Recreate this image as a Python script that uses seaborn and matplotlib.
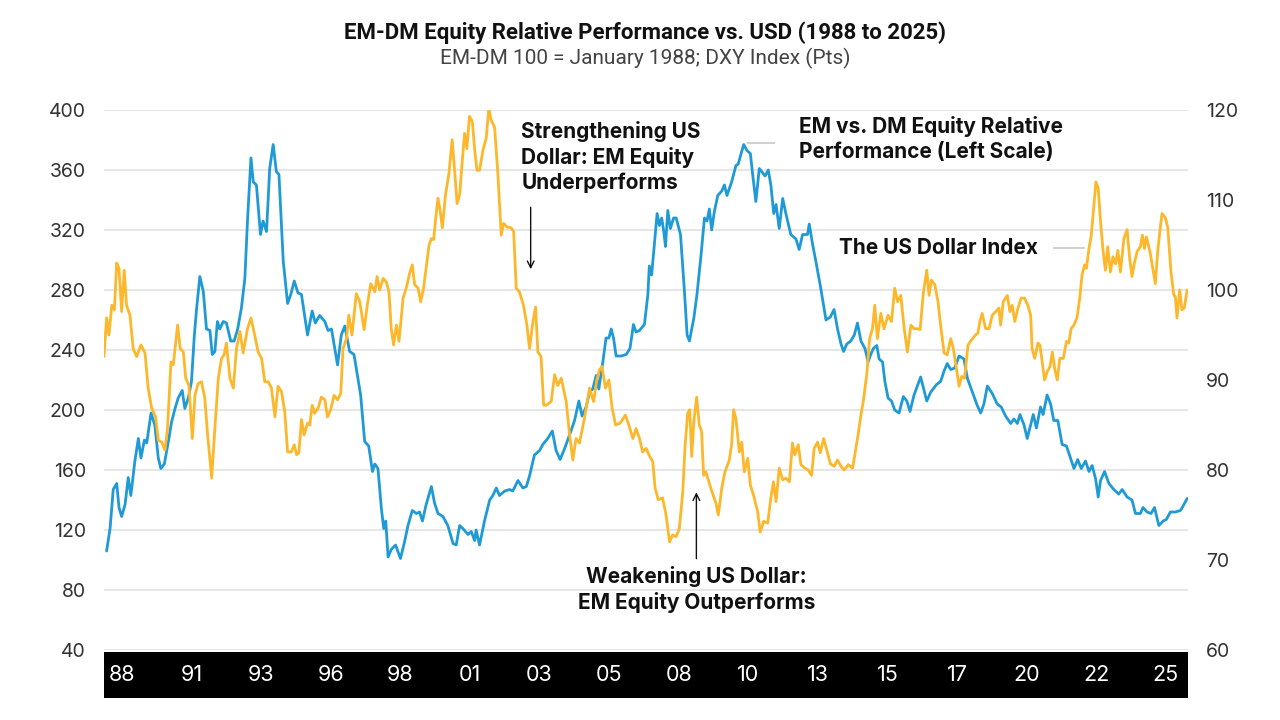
import numpy as np
import pandas as pd
import matplotlib
matplotlib.use("Agg")
import matplotlib.pyplot as plt
import seaborn as sns

# EM vs DM equity relative performance (left scale, Jan 1988 = 100)
em_years = [
    1988.09, 1988.21, 1988.32, 1988.44, 1988.52, 1988.61, 1988.73, 1988.84, 1988.93, 1989.07,
    1989.19, 1989.28, 1989.40, 1989.48, 1989.63, 1989.76, 1989.88, 1989.97, 1990.09, 1990.23,
    1990.34, 1990.46, 1990.57, 1990.71, 1990.80, 1990.92, 1991.03, 1991.13, 1991.21, 1991.32,
    1991.44, 1991.55, 1991.67, 1991.75, 1991.84, 1991.93, 1992.01, 1992.13, 1992.24, 1992.39,
    1992.51, 1992.63, 1992.76, 1992.88, 1992.97, 1993.09, 1993.17, 1993.28, 1993.42, 1993.51,
    1993.63, 1993.74, 1993.86, 1993.97, 1994.06, 1994.21, 1994.36, 1994.47, 1994.59, 1994.72,
    1994.84, 1995.05, 1995.21, 1995.32, 1995.47, 1995.65, 1995.76, 1995.88, 1996.09, 1996.22,
    1996.34, 1996.51, 1996.66, 1996.89, 1997.03, 1997.17, 1997.30, 1997.38, 1997.49, 1997.61,
    1997.69, 1997.76, 1997.84, 1997.95, 1998.10, 1998.27, 1998.41, 1998.53, 1998.68, 1998.82,
    1998.93, 1999.03, 1999.16, 1999.34, 1999.45, 1999.57, 1999.74, 1999.91, 2000.09, 2000.20,
    2000.32, 2000.43, 2000.61, 2000.72, 2000.84, 2000.89, 2001.01, 2001.18, 2001.36, 2001.47,
    2001.59, 2001.70, 2001.88, 2002.05, 2002.16, 2002.34, 2002.51, 2002.63, 2002.74, 2002.91,
    2003.09, 2003.20, 2003.37, 2003.53, 2003.66, 2003.80, 2003.95, 2004.12, 2004.30, 2004.45,
    2004.56, 2004.70, 2004.82, 2004.93, 2005.05, 2005.14, 2005.28, 2005.39, 2005.49, 2005.57,
    2005.65, 2005.74, 2005.91, 2006.09, 2006.22, 2006.34, 2006.43, 2006.55, 2006.72, 2006.84,
    2006.89, 2006.97, 2007.07, 2007.16, 2007.24, 2007.32, 2007.39, 2007.45, 2007.53, 2007.62,
    2007.73, 2007.82, 2007.97, 2008.10, 2008.20, 2008.28, 2008.43, 2008.54, 2008.68, 2008.80,
    2008.89, 2008.97, 2009.05, 2009.14, 2009.26, 2009.40, 2009.49, 2009.58, 2009.74, 2009.89,
    2009.97, 2010.07, 2010.16, 2010.27, 2010.39, 2010.47, 2010.58, 2010.70, 2010.78, 2010.90,
    2011.01, 2011.10, 2011.20, 2011.28, 2011.39, 2011.51, 2011.62, 2011.79, 2011.97, 2012.08,
    2012.20, 2012.37, 2012.43, 2012.54, 2012.66, 2012.83, 2013.01, 2013.16, 2013.29, 2013.41,
    2013.53, 2013.62, 2013.73, 2013.87, 2013.99, 2014.10, 2014.22, 2014.36, 2014.47, 2014.56,
    2014.65, 2014.77, 2014.85, 2014.97, 2015.05, 2015.16, 2015.28, 2015.39, 2015.54, 2015.69,
    2015.81, 2015.92, 2016.06, 2016.29, 2016.50, 2016.64, 2016.84, 2016.98, 2017.10, 2017.21,
    2017.33, 2017.47, 2017.62, 2017.79, 2017.91, 2018.08, 2018.25, 2018.37, 2018.48, 2018.60,
    2018.77, 2018.94, 2019.08, 2019.23, 2019.41, 2019.52, 2019.64, 2019.73, 2019.87, 2019.98,
    2020.10, 2020.19, 2020.30, 2020.44, 2020.53, 2020.67, 2020.79, 2020.90, 2021.04, 2021.19,
    2021.34, 2021.48, 2021.60, 2021.73, 2021.85, 2022.00, 2022.12, 2022.23, 2022.35, 2022.44,
    2022.52, 2022.66, 2022.81, 2022.98, 2023.15, 2023.27, 2023.44, 2023.61, 2023.73, 2023.90,
    2023.99, 2024.13, 2024.27, 2024.39, 2024.54, 2024.69, 2024.80, 2024.94, 2025.11, 2025.29,
    2025.38, 2025.52,
]
em_values = [
    106, 121, 147, 151, 135, 129, 137, 155, 143, 166,
    181, 168, 180, 178, 198, 190, 168, 161, 164, 179,
    192, 201, 208, 213, 201, 208, 219, 250, 268, 289,
    279, 254, 253, 237, 239, 259, 254, 259, 258, 246,
    246, 254, 268, 288, 326, 368, 352, 350, 317, 326,
    319, 361, 377, 359, 357, 299, 271, 277, 286, 278,
    277, 250, 266, 258, 263, 259, 253, 254, 230, 250,
    256, 239, 237, 210, 179, 176, 159, 164, 161, 134,
    121, 126, 102, 107, 110, 101, 112, 123, 133, 131,
    132, 126, 137, 149, 138, 131, 129, 123, 111, 110,
    123, 121, 117, 119, 113, 120, 110, 126, 140, 143,
    148, 143, 146, 147, 146, 153, 148, 149, 156, 170,
    173, 177, 181, 186, 173, 167, 174, 183, 193, 206,
    196, 202, 212, 214, 223, 214, 232, 248, 248, 254,
    248, 236, 236, 237, 241, 257, 252, 253, 257, 277,
    296, 290, 312, 331, 323, 328, 319, 309, 333, 321,
    328, 328, 317, 281, 250, 246, 261, 277, 303, 328,
    326, 334, 320, 332, 343, 346, 350, 343, 352, 363,
    364, 371, 377, 373, 371, 357, 339, 361, 359, 356,
    360, 350, 331, 337, 321, 341, 331, 317, 314, 307,
    317, 317, 324, 311, 299, 281, 260, 262, 267, 254,
    244, 239, 244, 246, 250, 258, 246, 241, 232, 237,
    241, 243, 234, 232, 219, 208, 206, 200, 198, 209,
    206, 199, 210, 222, 206, 212, 217, 219, 226, 231,
    227, 228, 236, 234, 221, 212, 203, 198, 204, 216,
    211, 204, 202, 196, 191, 194, 191, 197, 190, 181,
    190, 197, 188, 202, 197, 210, 204, 193, 193, 177,
    176, 168, 161, 167, 161, 166, 159, 163, 154, 142,
    153, 159, 151, 147, 144, 147, 142, 140, 131, 131,
    135, 132, 131, 135, 123, 126, 127, 132, 132, 133,
    136, 141,
]

# US Dollar Index, DXY (right scale, points)
dxy_years = [
    1988.00, 1988.09, 1988.17, 1988.27, 1988.36, 1988.44, 1988.52, 1988.61, 1988.70, 1988.78,
    1988.90, 1989.01, 1989.13, 1989.28, 1989.42, 1989.53, 1989.65, 1989.79, 1989.88, 1990.00,
    1990.11, 1990.20, 1990.32, 1990.40, 1990.55, 1990.64, 1990.75, 1990.83, 1990.94, 1991.06,
    1991.15, 1991.26, 1991.38, 1991.49, 1991.59, 1991.73, 1991.84, 1991.96, 1992.07, 1992.16,
    1992.24, 1992.36, 1992.48, 1992.59, 1992.71, 1992.82, 1992.97, 1993.09, 1993.22, 1993.34,
    1993.46, 1993.57, 1993.69, 1993.80, 1993.92, 1994.03, 1994.15, 1994.26, 1994.36, 1994.49,
    1994.59, 1994.67, 1994.75, 1994.84, 1994.93, 1995.05, 1995.13, 1995.21, 1995.30, 1995.42,
    1995.53, 1995.65, 1995.74, 1995.85, 1995.97, 1996.09, 1996.20, 1996.28, 1996.40, 1996.48,
    1996.59, 1996.74, 1996.86, 1997.01, 1997.12, 1997.24, 1997.38, 1997.46, 1997.55, 1997.67,
    1997.78, 1997.87, 1997.95, 1998.03, 1998.13, 1998.22, 1998.36, 1998.47, 1998.59, 1998.68,
    1998.76, 1998.88, 1998.97, 1999.07, 1999.14, 1999.26, 1999.34, 1999.42, 1999.49, 1999.57,
    1999.65, 1999.72, 1999.83, 1999.95, 2000.06, 2000.14, 2000.23, 2000.32, 2000.41, 2000.49,
    2000.57, 2000.66, 2000.76, 2000.84, 2000.92, 2001.01, 2001.13, 2001.24, 2001.33, 2001.41,
    2001.53, 2001.64, 2001.76, 2001.84, 2001.96, 2002.11, 2002.19, 2002.28, 2002.39, 2002.53,
    2002.65, 2002.74, 2002.86, 2002.95, 2003.03, 2003.14, 2003.23, 2003.32, 2003.49, 2003.61,
    2003.72, 2003.84, 2004.01, 2004.13, 2004.24, 2004.35, 2004.47, 2004.64, 2004.82, 2004.96,
    2005.07, 2005.16, 2005.25, 2005.37, 2005.49, 2005.60, 2005.72, 2005.88, 2006.06, 2006.18,
    2006.32, 2006.43, 2006.55, 2006.66, 2006.78, 2006.89, 2007.01, 2007.09, 2007.20, 2007.35,
    2007.47, 2007.59, 2007.70, 2007.82, 2007.93, 2008.05, 2008.13, 2008.22, 2008.29, 2008.36,
    2008.43, 2008.53, 2008.62, 2008.70, 2008.77, 2008.85, 2008.97, 2009.08, 2009.20, 2009.28,
    2009.40, 2009.51, 2009.66, 2009.74, 2009.81, 2009.89, 2010.01, 2010.09, 2010.18, 2010.30,
    2010.39, 2010.50, 2010.64, 2010.73, 2010.85, 2010.99, 2011.10, 2011.19, 2011.28, 2011.39,
    2011.51, 2011.62, 2011.74, 2011.85, 2011.93, 2012.05, 2012.14, 2012.28, 2012.39, 2012.51,
    2012.60, 2012.72, 2012.81, 2012.93, 2013.04, 2013.16, 2013.29, 2013.41, 2013.53, 2013.64,
    2013.78, 2013.93, 2014.01, 2014.12, 2014.22, 2014.31, 2014.43, 2014.52, 2014.62, 2014.70,
    2014.79, 2014.91, 2015.02, 2015.16, 2015.28, 2015.39, 2015.49, 2015.60, 2015.72, 2015.83,
    2015.95, 2016.06, 2016.18, 2016.27, 2016.38, 2016.50, 2016.58, 2016.66, 2016.78, 2016.89,
    2016.98, 2017.10, 2017.21, 2017.33, 2017.42, 2017.51, 2017.62, 2017.71, 2017.81, 2017.93,
    2018.04, 2018.19, 2018.27, 2018.34, 2018.42, 2018.54, 2018.66, 2018.77, 2018.89, 2019.00,
    2019.06, 2019.15, 2019.29, 2019.38, 2019.46, 2019.55, 2019.66, 2019.77, 2019.89, 2020.00,
    2020.10, 2020.15, 2020.24, 2020.35, 2020.42, 2020.50, 2020.58, 2020.67, 2020.77, 2020.85,
    2020.93, 2021.02, 2021.11, 2021.23, 2021.34, 2021.42, 2021.50, 2021.60, 2021.71, 2021.80,
    2021.88, 2021.97, 2022.03, 2022.12, 2022.20, 2022.29, 2022.36, 2022.44, 2022.52, 2022.61,
    2022.69, 2022.77, 2022.86, 2022.95, 2023.04, 2023.12, 2023.21, 2023.33, 2023.44, 2023.53,
    2023.61, 2023.70, 2023.79, 2023.90, 2023.97, 2024.04, 2024.11, 2024.23, 2024.31, 2024.42,
    2024.50, 2024.60, 2024.65, 2024.77, 2024.85, 2024.96, 2025.06, 2025.11, 2025.17, 2025.26,
    2025.34, 2025.42, 2025.52,
]
dxy_values = [
    92.6, 96.9, 95.0, 98.3, 97.8, 103.0, 102.4, 97.6, 102.2, 98.3,
    97.2, 93.5, 92.6, 93.9, 93.0, 89.1, 86.9, 85.9, 83.3, 83.1,
    82.2, 84.6, 92.0, 91.7, 96.1, 93.5, 93.1, 90.2, 89.4, 83.5,
    88.3, 89.6, 89.8, 88.0, 83.9, 79.1, 84.6, 90.2, 92.4, 92.8,
    94.1, 90.2, 89.1, 93.5, 95.4, 93.0, 95.7, 96.9, 95.0, 93.1,
    92.4, 89.8, 89.8, 89.1, 85.9, 89.3, 88.7, 86.5, 82.0, 82.0,
    82.8, 81.7, 81.9, 85.6, 83.9, 85.2, 85.0, 87.2, 86.3, 86.9,
    88.1, 87.8, 85.9, 86.7, 88.3, 87.8, 88.5, 93.5, 94.6, 97.2,
    95.0, 99.6, 98.7, 95.6, 98.3, 100.7, 99.8, 101.5, 100.0, 101.3,
    100.9, 99.8, 95.7, 93.9, 96.1, 94.3, 99.1, 100.2, 101.9, 102.8,
    100.6, 100.2, 98.7, 100.2, 102.0, 105.0, 105.7, 105.6, 108.0, 110.2,
    108.7, 106.9, 110.6, 113.0, 116.7, 113.5, 109.6, 110.6, 114.3, 117.4,
    115.7, 119.3, 118.7, 115.6, 113.3, 113.3, 115.6, 116.9, 120.2, 118.9,
    118.1, 113.1, 106.1, 107.4, 107.0, 106.9, 106.5, 100.2, 99.8, 98.3,
    96.1, 93.5, 96.5, 98.1, 93.1, 92.6, 87.2, 87.2, 87.6, 90.6,
    89.4, 90.2, 87.6, 83.9, 81.1, 83.5, 83.0, 85.7, 89.1, 87.6,
    90.0, 91.1, 91.5, 89.1, 90.0, 86.9, 85.0, 85.2, 86.1, 85.0,
    83.5, 84.6, 83.5, 82.0, 82.4, 81.6, 80.9, 78.0, 76.7, 76.9,
    75.0, 72.0, 72.8, 72.6, 73.5, 77.6, 82.8, 86.3, 86.7, 81.5,
    85.4, 88.1, 85.0, 84.3, 79.4, 79.8, 78.5, 77.4, 76.3, 75.0,
    78.0, 79.8, 81.1, 82.8, 86.7, 85.7, 82.0, 83.1, 79.8, 81.3,
    78.3, 77.2, 75.4, 73.1, 74.3, 74.1, 76.9, 78.7, 76.5, 80.2,
    78.9, 79.1, 78.7, 83.0, 81.7, 82.8, 80.6, 80.2, 80.0, 79.4,
    82.4, 83.1, 81.9, 83.5, 82.2, 80.7, 80.4, 81.1, 80.4, 80.0,
    80.6, 80.2, 81.7, 83.9, 86.1, 87.8, 90.9, 94.6, 95.7, 98.3,
    94.6, 97.4, 95.7, 97.2, 96.5, 100.2, 98.7, 99.4, 95.7, 93.1,
    96.1, 95.7, 95.7, 95.6, 99.6, 102.2, 99.4, 101.1, 100.6, 98.7,
    96.1, 93.0, 92.8, 94.6, 93.5, 91.7, 89.3, 90.4, 90.2, 93.9,
    94.4, 95.0, 95.2, 96.5, 97.4, 95.7, 95.7, 97.2, 97.6, 98.0,
    96.1, 98.7, 99.4, 97.6, 98.3, 96.5, 98.0, 99.1, 99.1, 98.3,
    97.2, 93.5, 92.4, 94.1, 93.9, 92.0, 90.0, 90.9, 91.5, 93.1,
    91.3, 90.0, 92.4, 92.4, 94.3, 94.1, 95.7, 96.1, 97.0, 99.1,
    101.7, 102.8, 102.4, 104.6, 106.1, 109.4, 112.0, 111.3, 107.6, 104.3,
    102.2, 104.8, 102.0, 103.7, 102.9, 104.4, 102.0, 105.7, 106.7, 103.5,
    101.5, 103.1, 104.3, 104.8, 106.1, 104.6, 105.9, 104.3, 102.8, 100.7,
    104.3, 107.2, 108.5, 108.0, 106.9, 102.0, 99.4, 99.3, 96.9, 100.0,
    97.8, 98.0, 100.0,
]

year_labels = ["88", "91", "93", "96", "98", "01", "03", "05",
               "08", "10", "13", "15", "17", "20", "22", "25"]
left_ticks = [40, 80, 120, 160, 200, 240, 280, 320, 360, 400]
right_ticks = [60, 70, 80, 90, 100, 110, 120]

BLUE = "#1f9ad6"
ORANGE = "#fdb72b"
TEXT = "#333333"

em_df = pd.DataFrame({"year": em_years, "value": em_values})
dxy_df = pd.DataFrame({"year": dxy_years, "value": dxy_values})

sns.set_theme(style="white")
plt.rcParams['font.family'] = ['Inter', 'DejaVu Sans']

fig = plt.figure(figsize=(12.8, 7.2), dpi=100)
ax = fig.add_axes([104 / 1280, 70 / 720, 1084 / 1280, 540 / 720])

# left scale: EM vs DM relative performance
sns.lineplot(data=em_df, x="year", y="value", ax=ax, color=BLUE,
             linewidth=2.0, sort=False, estimator=None)
ax.set_xlim(1988.0, 2025.55)
ax.set_ylim(40, 400)
ax.set_yticks(left_ticks)
ax.set_xticks([])
ax.set_xlabel("")
ax.set_ylabel("")
ax.grid(axis="y", color="#e2e2e2", linewidth=1.2)
ax.tick_params(axis="y", length=0, pad=13, labelsize=14, labelcolor=TEXT)

# right scale: US Dollar Index
ax2 = ax.twinx()
sns.lineplot(data=dxy_df, x="year", y="value", ax=ax2, color=ORANGE,
             linewidth=2.0, sort=False, estimator=None)
ax2.set_ylim(60, 120)
ax2.set_yticks(right_ticks)
ax2.set_ylabel("")
ax2.grid(False)
ax2.tick_params(axis="y", length=0, pad=13, labelsize=14, labelcolor=TEXT)

for a in (ax, ax2):
    for spine in a.spines.values():
        spine.set_visible(False)

# black year band under the chart
band = fig.add_axes([104 / 1280, 22 / 720, 1084 / 1280, 46 / 720])
band.set_facecolor("black")
band.set_xlim(ax.get_xlim())
band.set_ylim(0, 1)
band.set_xticks([])
band.set_yticks([])
for spine in band.spines.values():
    spine.set_visible(False)
tick_pos = np.linspace(1988.62, 2024.78, len(year_labels))
for pos, lab in zip(tick_pos, year_labels):
    band.text(pos, 0.5, lab, color="white", ha="center", va="center", fontsize=15.5)

# annotations
bold = dict(fontsize=15, fontweight="bold", color="#111111", linespacing=1.3)
ax.text(2002.46, 393, "Strengthening US\nDollar: EM Equity\nUnderperforms",
        ha="left", va="top", **bold)
ax.annotate("", xy=(2002.78, 292), xytext=(2002.78, 337),
            arrowprops=dict(arrowstyle="->", color="#111111", lw=1.0))

ax.text(2012.08, 396, "EM vs. DM Equity Relative\nPerformance (Left Scale)",
        ha="left", va="top", **bold)
ax.annotate("", xy=(2011.32, 378), xytext=(2010.18, 378),
            arrowprops=dict(arrowstyle="-", color="#c8c8c8", lw=1.2))

ax.text(2013.47, 308, "The US Dollar Index", ha="left", va="center", **bold)
ax.annotate("", xy=(2022.05, 308), xytext=(2020.80, 308),
            arrowprops=dict(arrowstyle="-", color="#c8c8c8", lw=1.2))

ax.text(2008.52, 96, "Weakening US Dollar:\nEM Equity Outperforms",
        ha="center", va="top", **bold)
ax.annotate("", xy=(2008.52, 147), xytext=(2008.52, 99),
            arrowprops=dict(arrowstyle="->", color="#111111", lw=1.0))

# titles
fig.text(0.504, 1 - 33 / 720, "EM-DM Equity Relative Performance vs. USD (1988 to 2025)",
         ha="center", va="center", fontsize=16, fontweight="bold", color="#111111",
         family=["Roboto", "DejaVu Sans"])
fig.text(0.504, 1 - 58 / 720, "EM-DM 100 = January 1988; DXY Index (Pts)",
         ha="center", va="center", fontsize=15, color="#444444",
         family=["Roboto", "DejaVu Sans"])

fig.savefig("out.png", dpi=100)
